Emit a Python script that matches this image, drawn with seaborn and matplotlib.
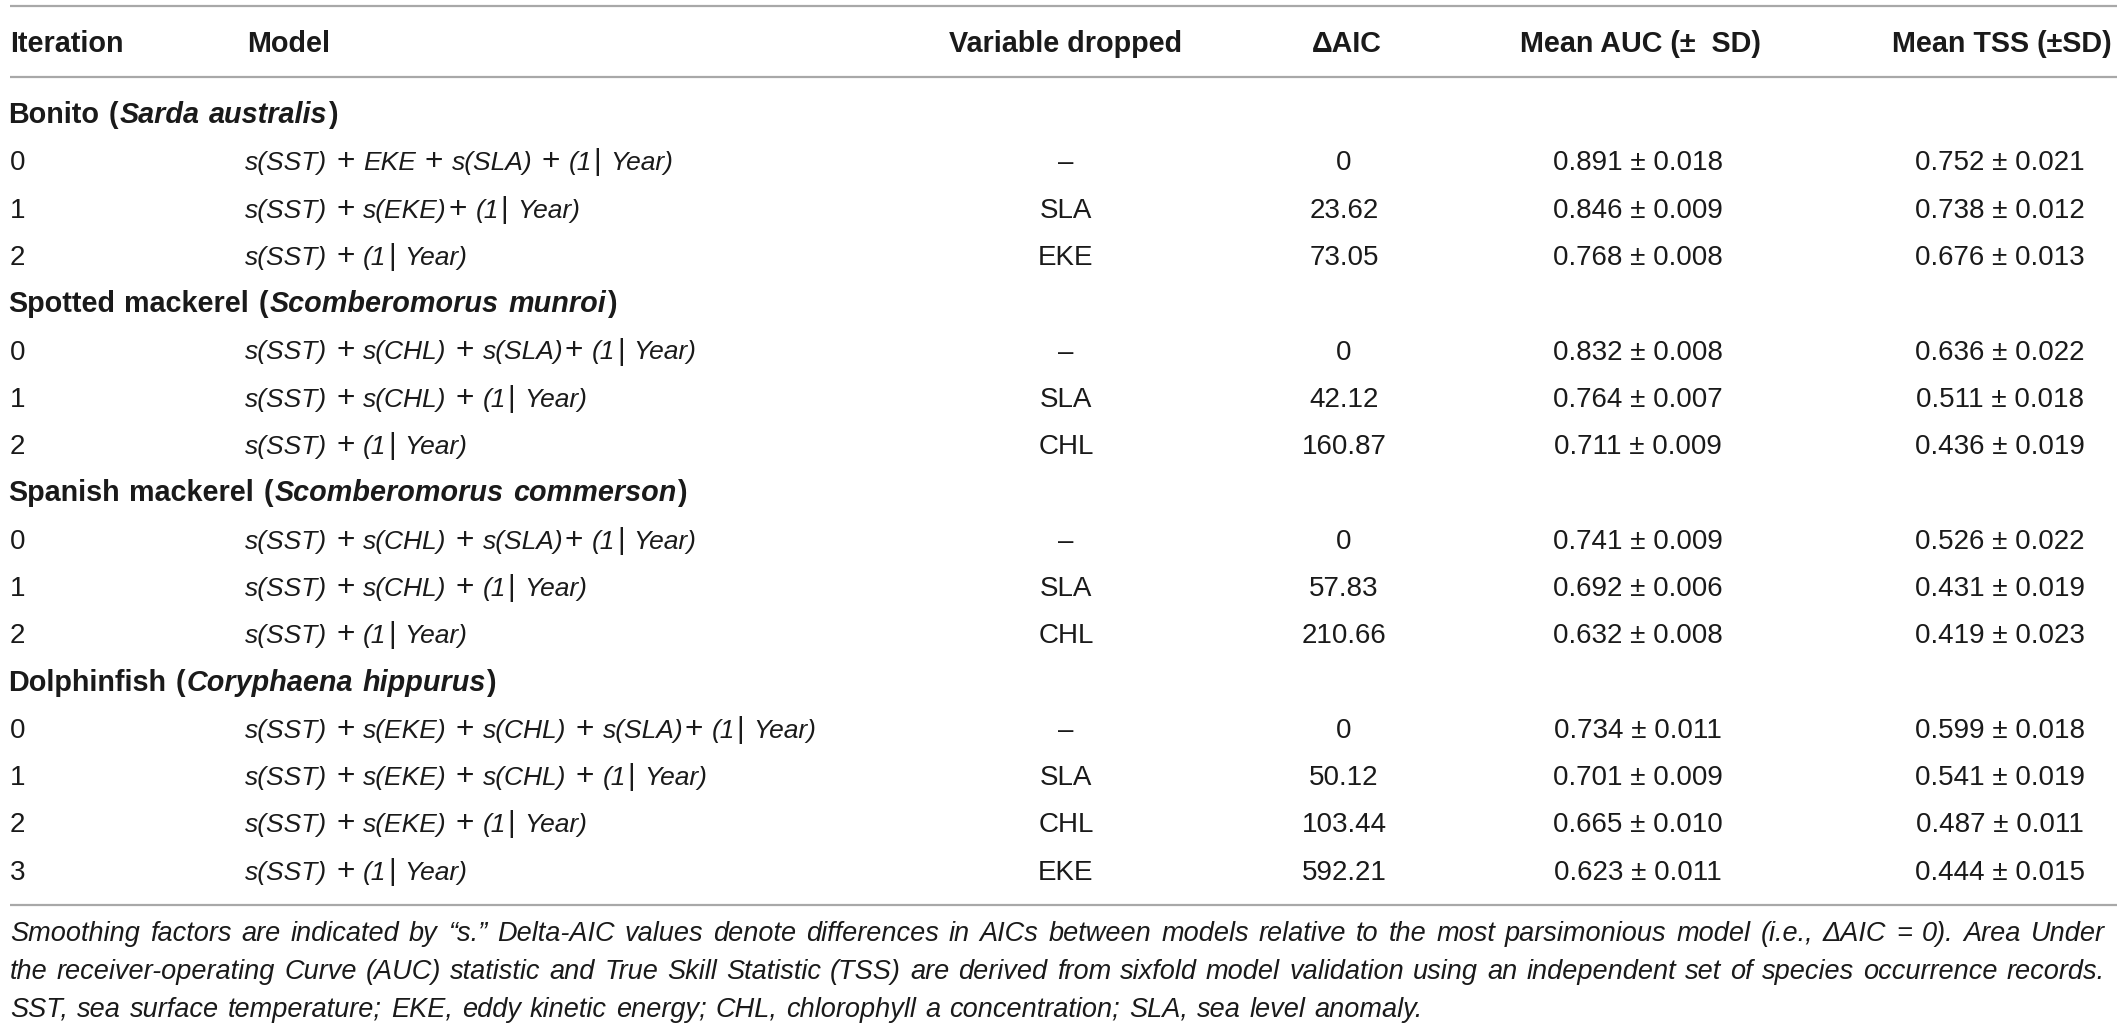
import re
import matplotlib
matplotlib.use('Agg')
import matplotlib.pyplot as plt
import seaborn as sns

# table content
species = ['Bonito', 'Spotted mackerel', 'Spanish mackerel', 'Dolphinfish']
latin = ['Sarda australis', 'Scomberomorus munroi', 'Scomberomorus commerson', 'Coryphaena hippurus']
iterations = [[0, 1, 2], [0, 1, 2], [0, 1, 2], [0, 1, 2, 3]]
models = [
    ['s(SST) + EKE + s(SLA) + (1| Year)', 's(SST) + s(EKE)+ (1| Year)', 's(SST) + (1| Year)'],
    ['s(SST) + s(CHL) + s(SLA)+ (1| Year)', 's(SST) + s(CHL) + (1| Year)', 's(SST) + (1| Year)'],
    ['s(SST) + s(CHL) + s(SLA)+ (1| Year)', 's(SST) + s(CHL) + (1| Year)', 's(SST) + (1| Year)'],
    ['s(SST) + s(EKE) + s(CHL) + s(SLA)+ (1| Year)', 's(SST) + s(EKE) + s(CHL) + (1| Year)',
     's(SST) + s(EKE) + (1| Year)', 's(SST) + (1| Year)'],
]
dropped = [['–', 'SLA', 'EKE'], ['–', 'SLA', 'CHL'], ['–', 'SLA', 'CHL'], ['–', 'SLA', 'CHL', 'EKE']]
delta_aic = [[0, 23.62, 73.05], [0, 42.12, 160.87], [0, 57.83, 210.66], [0, 50.12, 103.44, 592.21]]
auc_mean = [[0.891, 0.846, 0.768], [0.832, 0.764, 0.711], [0.741, 0.692, 0.632], [0.734, 0.701, 0.665, 0.623]]
auc_sd = [[0.018, 0.009, 0.008], [0.008, 0.007, 0.009], [0.009, 0.006, 0.008], [0.011, 0.009, 0.010, 0.011]]
tss_mean = [[0.752, 0.738, 0.676], [0.636, 0.511, 0.436], [0.526, 0.431, 0.419], [0.599, 0.541, 0.487, 0.444]]
tss_sd = [[0.021, 0.012, 0.013], [0.022, 0.018, 0.019], [0.022, 0.019, 0.023], [0.018, 0.019, 0.011, 0.015]]

headers = ['Iteration', 'Model', 'Variable dropped', 'ΔAIC', 'Mean AUC (±  SD)', 'Mean TSS (±SD)']
footnote = [
    'Smoothing factors are indicated by “s.” Delta-AIC values denote differences in AICs between models '
    'relative to the most parsimonious model (i.e.,  ΔAIC = 0). Area Under',
    'the receiver-operating Curve (AUC) statistic and True Skill Statistic (TSS) are derived from sixfold '
    'model validation using an independent set of species occurrence records.',
    'SST, sea surface temperature; EKE, eddy kinetic energy; CHL, chlorophyll a concentration; SLA, sea level anomaly.',
]

sns.set_theme(style='white')
plt.rcParams['font.family'] = ['Liberation Sans', 'DejaVu Sans']

W, H = 2122, 1028
fig = plt.figure(figsize=(W / 100, H / 100), dpi=100)
ax = fig.add_axes([0, 0, 1, 1])
ax.set_xlim(0, W)
ax.set_ylim(H, 0)
ax.axis('off')
renderer = fig.canvas.get_renderer()

TXT = '#1a1a1a'
FS = 20        # body text
FS_B = 20.7    # bold headers
FS_F = 19      # model formulas
col_x = [10, 245, 1066, 1344, 1638, 2000]
head_x = [10, 247, 1066, 1347, 1640, 2002]


def measure(s, **kw):
    t = ax.text(0, 0, s, **kw)
    w = t.get_window_extent(renderer).width
    t.remove()
    return w


_space = {}


def space_w(style, weight, size):
    key = (style, weight, size)
    if key not in _space:
        kw = dict(fontstyle=style, fontweight=weight, fontsize=size)
        _space[key] = measure('n n', **kw) - measure('nn', **kw)
    return _space[key]


def draw_tokens(x, y, tokens, size, gap_scale=1.0):
    # tokens: (text, style, weight[, size factor]); text ' ' is a word gap
    for tok in tokens:
        txt, st, wt = tok[:3]
        sz = size * (tok[3] if len(tok) > 3 else 1.0)
        if txt == ' ':
            x += space_w(st, wt, size) * gap_scale
            continue
        ax.text(x, y, txt, fontstyle=st, fontweight=wt, fontsize=sz, color=TXT,
                ha='left', va='baseline')
        x += measure(txt, fontstyle=st, fontweight=wt, fontsize=sz) + 1.5


def formula_tokens(s):
    out = []
    for p in re.split(r'(\+|\||\s+)', s):
        if p == '':
            continue
        if p.isspace():
            out.append((' ', 'normal', 'normal'))
        elif p == '+':
            out.append((p, 'normal', 'normal', 1.2))
        elif p == '|':
            out.append((p, 'normal', 'normal', 1.1))
        else:
            out.append((p, 'italic', 'normal'))
    return out


# rules
for yy in [6, 77, 905]:
    ax.plot([10, 2117], [yy, yy], color='#a8a8a8', lw=1.6, solid_capstyle='butt')

# header row
base_off = 10
for i, h in enumerate(headers):
    ha = 'left' if i < 2 else 'center'
    ax.text(head_x[i], 42 + base_off, h, fontsize=FS_B, fontweight='bold', color=TXT,
            ha=ha, va='baseline')

# body
pitch = 47.3
y = 113
for k in range(len(species)):
    toks = []
    for j, wrd in enumerate(species[k].split(' ')):
        if j:
            toks.append((' ', 'normal', 'bold'))
        toks.append((wrd, 'normal', 'bold'))
    toks.append((' ', 'normal', 'bold'))
    toks.append(('(', 'normal', 'bold'))
    for j, wrd in enumerate(latin[k].split(' ')):
        if j:
            toks.append((' ', 'italic', 'bold'))
        toks.append((wrd, 'italic', 'bold'))
    toks.append((')', 'normal', 'bold'))
    draw_tokens(8, y + base_off, toks, FS_B)
    y += pitch
    for r in range(len(iterations[k])):
        yb = y + base_off
        ax.text(col_x[0], yb, str(iterations[k][r]), fontsize=FS, color=TXT, ha='left', va='baseline')
        draw_tokens(col_x[1], yb, formula_tokens(models[k][r]), FS_F, gap_scale=1.0)
        ax.text(col_x[2], yb, dropped[k][r], fontsize=FS, color=TXT, ha='center', va='baseline')
        d = delta_aic[k][r]
        ax.text(col_x[3], yb, '0' if d == 0 else f'{d:.2f}', fontsize=FS, color=TXT,
                ha='center', va='baseline')
        ax.text(col_x[4], yb, f'{auc_mean[k][r]:.3f} ± {auc_sd[k][r]:.3f}', fontsize=FS, color=TXT,
                ha='center', va='baseline')
        ax.text(col_x[5], yb, f'{tss_mean[k][r]:.3f} ± {tss_sd[k][r]:.3f}', fontsize=FS, color=TXT,
                ha='center', va='baseline')
        y += pitch

# footnote, justified to table width
left, right = 10, 2105
ref = 10
nat = [measure(l, fontstyle='italic', fontsize=ref) for l in footnote[:2]]
fsz = ref * (right - left) / max(nat) * 0.985
fy = [941, 979, 1017]
for i, line in enumerate(footnote):
    words = line.split()
    ws = [measure(wd, fontstyle='italic', fontsize=fsz) for wd in words]
    if i < 2:
        gap = (right - left - sum(ws)) / (len(words) - 1)
    else:
        gap = space_w('italic', 'normal', fsz) + 1.5
    x = left
    for wd, w in zip(words, ws):
        ax.text(x, fy[i], wd, fontstyle='italic', fontsize=fsz, color=TXT, ha='left', va='baseline')
        x += w + gap

fig.savefig('out.png', dpi=100, facecolor='white')
